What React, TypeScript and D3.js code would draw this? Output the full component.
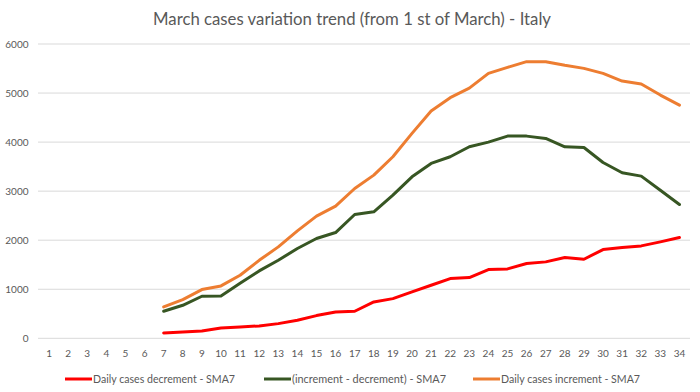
import React from "react";
import * as d3 from "d3";

const days: string[] = Array.from({ length: 34 }, (_, i) => String(i + 1));
const yTicks = [0, 1000, 2000, 3000, 4000, 5000, 6000];

// values start at day 7
const decrement = [109, 129, 150, 211, 231, 252, 299, 367, 463, 537, 551, 741, 809, 946, 1082, 1218, 1238, 1401, 1415, 1524, 1558, 1646, 1612, 1809, 1850, 1884, 1966, 2054];
const netChange = [551, 673, 857, 864, 1120, 1374, 1592, 1830, 2034, 2156, 2524, 2578, 2918, 3292, 3565, 3701, 3905, 4000, 4122, 4122, 4075, 3905, 3891, 3585, 3374, 3306, 3020, 2728];
const increment = [640, 790, 993, 1068, 1285, 1590, 1864, 2190, 2490, 2694, 3054, 3327, 3701, 4177, 4633, 4905, 5100, 5401, 5524, 5640, 5640, 5565, 5503, 5401, 5245, 5184, 4959, 4755];
const startDay = 7;

const series = [
  { name: "Daily cases decrement - SMA7", values: decrement, color: "#FF0000" },
  { name: "(increment - decrement) - SMA7", values: netChange, color: "#375623" },
  { name: "Daily cases increment - SMA7", values: increment, color: "#ED7D31" },
];

export default function App() {
  const W = 700, H = 392;
  const x = d3.scaleBand<string>().domain(days).range([39.5, 689]);
  const y = d3.scaleLinear().domain([0, 6000]).range([338.3, 44]);
  const font = "Lato, 'Open Sans', sans-serif";
  const line = d3
    .line<number>()
    .x((_, i) => (x(String(startDay + i)) as number) + x.bandwidth() / 2)
    .y((v) => y(v));
  const legendX = [65, 264, 473];
  const legendW = [142, 154, 139];
  return (
    <svg width={W} height={H} style={{ position: "absolute", left: 0, top: 0, background: "#fff" }}>
      <text x={153} y={25} textLength={398} lengthAdjust="spacingAndGlyphs" fontFamily={font} fontSize={17} fill="#595959">
        March cases variation trend (from 1 st of March) - Italy
      </text>
      {yTicks.map((t) => (
        <g key={t}>
          <line x1={38} x2={690} y1={y(t)} y2={y(t)} stroke="#D9D9D9" strokeWidth={1} />
          <text x={28.5} y={y(t) + 3.5} textAnchor="end" fontFamily={font} fontSize={10} fill="#595959">
            {t}
          </text>
        </g>
      ))}
      {days.map((d) => (
        <text key={d} x={(x(d) as number) + x.bandwidth() / 2} y={357} textAnchor="middle" fontFamily={font} fontSize={10} fill="#595959">
          {d}
        </text>
      ))}
      {series.map((s) => (
        <path key={s.name} d={line(s.values) || ""} fill="none" stroke={s.color} strokeWidth={3} strokeLinejoin="round" strokeLinecap="round" />
      ))}
      {series.map((s, i) => (
        <g key={s.name}>
          <line x1={legendX[i]} x2={legendX[i] + 27} y1={379} y2={379} stroke={s.color} strokeWidth={3} />
          <text x={legendX[i] + 28} y={383} textLength={legendW[i]} lengthAdjust="spacingAndGlyphs" fontFamily={font} fontSize={11} fill="#595959">
            {s.name}
          </text>
        </g>
      ))}
    </svg>
  );
}
